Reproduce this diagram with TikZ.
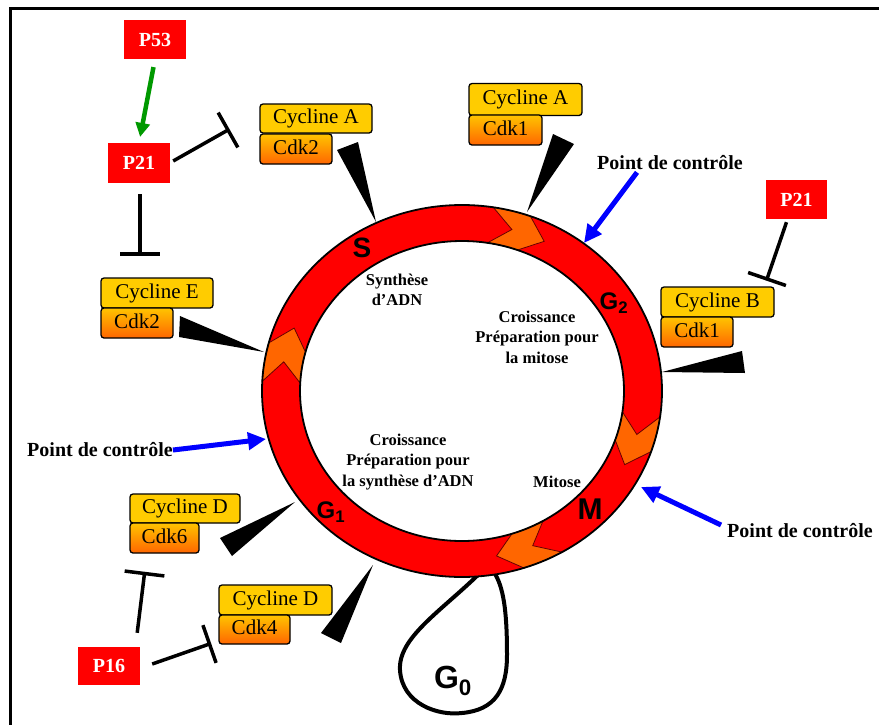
\documentclass[tikz,border=0pt]{standalone}
\usepackage{fontspec}
\setmainfont{Liberation Serif}
\newfontfamily\arialfont{Liberation Sans}
\usetikzlibrary{arrows.meta,calc}
\definecolor{ringred}{RGB}{255,0,0}
\definecolor{chev}{RGB}{255,102,0}
\definecolor{cycy}{RGB}{255,204,0}
\definecolor{cdktop}{RGB}{255,196,0}
\definecolor{cdkbot}{RGB}{255,102,0}
\definecolor{boxred}{RGB}{255,0,0}
\definecolor{garrow}{RGB}{0,153,0}
\definecolor{barrow}{RGB}{0,0,255}
\def\rgcx{462}\def\rgcy{391}
\def\rgRx{200}\def\rgRy{186}
\def\rgrx{162}\def\rgry{150}
\def\rgmx{181}\def\rgmy{168}
\def\rgdel{7}
\newcommand{\chevshape}[2]{%
  \filldraw[chevron] ({\rgcx+\rgRx*cos(#1)},{\rgcy+\rgRy*sin(#1)})
    -- ({\rgcx+\rgmx*cos(#1+\rgdel)},{\rgcy+\rgmy*sin(#1+\rgdel)})
    -- ({\rgcx+\rgrx*cos(#1)},{\rgcy+\rgry*sin(#1)})
    -- plot[domain=#1:#2,samples=8] ({\rgcx+\rgrx*cos(\x)},{\rgcy+\rgry*sin(\x)})
    -- ({\rgcx+\rgmx*cos(#2+\rgdel)},{\rgcy+\rgmy*sin(#2+\rgdel)})
    -- ({\rgcx+\rgRx*cos(#2)},{\rgcy+\rgRy*sin(#2)})
    -- plot[domain=#2:#1,samples=8] ({\rgcx+\rgRx*cos(\x)},{\rgcy+\rgRy*sin(\x)})
    -- cycle;}
\newcommand{\inhib}[2]{%
  \draw[inh] (#1) -- (#2);
  \draw[inh] ($(#2)!20pt!90:(#1)$) -- ($(#2)!20pt!-90:(#1)$);}
\tikzset{
  cyc/.style={draw=black, line width=1.3pt, rounded corners=3pt, fill=cycy, inner sep=0pt,
    text height=14.5pt, text depth=4.5pt, font=\fontsize{21}{24}\selectfont},
  cdk/.style={draw=black, line width=1.3pt, rounded corners=3pt, top color=cdktop, bottom color=cdkbot,
    inner sep=0pt, text height=14.5pt, text depth=4.5pt, font=\fontsize{21}{24}\selectfont},
  pbox/.style={fill=boxred, text=white, inner sep=0pt, font=\bfseries\fontsize{20}{24}\selectfont},
  wedge/.style={fill=black},
  inh/.style={line width=3.5pt, black},
  ctrl/.style={barrow, line width=5pt, -{Triangle[length=18pt,width=17pt]}},
  act/.style={garrow, line width=4.5pt, -{Triangle[length=14pt,width=14pt]}},
  ctrltext/.style={font=\bfseries\fontsize{20}{24}\selectfont, inner sep=0pt},
  phase/.style={font=\arialfont\bfseries\fontsize{#1}{#1}\selectfont, inner sep=0pt},
  intext/.style={font=\bfseries\fontsize{16.5}{20.5}\selectfont, align=center, inner sep=0pt},
  chevron/.style={fill=chev, draw=black!60!red, line width=0.8pt},
}
\begin{document}
\begin{tikzpicture}[x=1pt,y=-1pt]
\useasboundingbox (0,0) rectangle (879,724);
\fill[white] (0,0) rectangle (879,724);
\draw[line width=3pt] (10,8) rectangle (900,745);

% G0 loop
\draw[line width=4pt] (479,574) .. controls (440,612) and (398,638) .. (400,670)
  .. controls (402,704) and (438,716) .. (462,713)
  .. controls (495,710) and (507,690) .. (507,655)
  .. controls (507,620) and (505,590) .. (495,574);

% ring
\fill[ringred, even odd rule] (\rgcx,\rgcy) ellipse [x radius=200pt, y radius=186pt]
  (\rgcx,\rgcy) ellipse [x radius=162pt, y radius=150pt];
\chevshape{-81}{-70}
\chevshape{183}{195}
\chevshape{8}{19}
\chevshape{60}{72}
\draw[line width=1.8pt] (\rgcx,\rgcy) ellipse [x radius=200pt, y radius=186pt];
\draw[line width=1.8pt] (\rgcx,\rgcy) ellipse [x radius=162pt, y radius=150pt];

% phase labels
\node[phase=28] (S) at (362,248) {S};
\node[phase=24] (G2) at (614,303) {G\textsubscript{2}};
\node[phase=24] (G1) at (331,512) {G\textsubscript{1}};
\node[phase=30] (M) at (590,509) {M};
\node[phase=32] (G0) at (453,681) {G\textsubscript{0}};

% inner texts
\node[intext] (syn) at (397,290) {Synthèse\\d’ADN};
\node[intext] (crm) at (537,337) {Croissance\\Préparation pour\\la mitose};
\node[intext] (cra) at (408,462) {Croissance\\Préparation pour\\la synthèse d’ADN};
\node[intext] (mit) at (557,482) {Mitose};

% cyclin / cdk boxes
\node[cyc, minimum width=112pt, minimum height=29pt] (cA2) at (316,118.5) {Cycline A};
\node[cdk, minimum width=72pt, minimum height=30pt] (k2a) at (296,149) {Cdk2};
\node[cyc, minimum width=113pt, minimum height=32pt] (cA1) at (525.5,99.5) {Cycline A};
\node[cdk, minimum width=73pt, minimum height=30pt] (k1a) at (505.5,130) {Cdk1};
\node[cyc, minimum width=113pt, minimum height=30pt] (cB) at (717.5,302) {Cycline B};
\node[cdk, minimum width=72pt, minimum height=30pt] (k1b) at (697,332) {Cdk1};
\node[cyc, minimum width=112pt, minimum height=30pt] (cE) at (157,293) {Cycline E};
\node[cdk, minimum width=72pt, minimum height=30pt] (k2b) at (137,323) {Cdk2};
\node[cyc, minimum width=110pt, minimum height=29pt] (cD6) at (185,508.5) {Cycline D};
\node[cdk, minimum width=69pt, minimum height=30pt] (k6) at (164.5,538) {Cdk6};
\node[cyc, minimum width=113pt, minimum height=30pt] (cD4) at (275.5,600) {Cycline D};
\node[cdk, minimum width=71pt, minimum height=29pt] (k4) at (254.5,629.5) {Cdk4};

% wedges (complex -> ring)
\coordinate (wA2a) at (337,150); \coordinate (wA2b) at (358,142); \coordinate (wA2t) at (376,222);
\coordinate (wA1a) at (553,134); \coordinate (wA1b) at (574,144); \coordinate (wA1t) at (527,212);
\coordinate (wBa) at (742,351); \coordinate (wBb) at (745,373); \coordinate (wBt) at (662,372);
\coordinate (wEa) at (180,316); \coordinate (wEb) at (179,337); \coordinate (wEt) at (264,352);
\coordinate (wD6a) at (220,538); \coordinate (wD6b) at (232,556); \coordinate (wD6t) at (295,502);
\coordinate (wD4a) at (321,633); \coordinate (wD4b) at (341,643); \coordinate (wD4t) at (373,565);
\fill[wedge] (wA2a) -- (wA2b) -- (wA2t) -- cycle;
\fill[wedge] (wA1a) -- (wA1b) -- (wA1t) -- cycle;
\fill[wedge] (wBa) -- (wBb) -- (wBt) -- cycle;
\fill[wedge] (wEa) -- (wEb) -- (wEt) -- cycle;
\fill[wedge] (wD6a) -- (wD6b) -- (wD6t) -- cycle;
\fill[wedge] (wD4a) -- (wD4b) -- (wD4t) -- cycle;

% regulators
\node[pbox, minimum width=62pt, minimum height=39pt] (P53) at (155,39.5) {P53};
\node[pbox, minimum width=62pt, minimum height=40pt] (P21a) at (139,163) {P21};
\node[pbox, minimum width=61pt, minimum height=39pt] (P21b) at (796.5,199.5) {P21};
\node[pbox, minimum width=62pt, minimum height=38pt] (P16) at (109,666) {P16};

\draw[act, shorten <=8pt, shorten >=6pt] (P53.south) -- (P21a.north);

\coordinate (s1) at ($(P21a.east)+(3,-2)$);  \coordinate (b1) at (228,130);
\coordinate (s2) at ($(P21a.south)+(1,11)$); \coordinate (b2) at (140,254);
\coordinate (s3) at ($(P21b.south)+(-10,3)$); \coordinate (b3) at (767,279);
\coordinate (s4) at ($(P16.north east)+(-3,-14)$); \coordinate (b4) at (144.5,573.5);
\coordinate (s5) at ($(P16.east)+(12,-2)$); \coordinate (b5) at (209.5,644);
\inhib{s1}{b1}
\inhib{s2}{b2}
\inhib{s3}{b3}
\inhib{s4}{b4}
\inhib{s5}{b5}

% checkpoints
\node[ctrltext] (pdc1) at (670,163) {Point de contrôle};
\node[ctrltext] (pdc2) at (100,450) {Point de contrôle};
\node[ctrltext] (pdc3) at (800,531) {Point de contrôle};
\coordinate (c1e) at (584,243);
\coordinate (c2e) at (266,439);
\coordinate (c3e) at (641,487);
\draw[ctrl] ($(pdc1.south)+(-33,2)$) -- (c1e);
\draw[ctrl] (pdc2.east) -- (c2e);
\draw[ctrl] ($(pdc3.west)+(-6,-6)$) -- (c3e);
\end{tikzpicture}
\end{document}
